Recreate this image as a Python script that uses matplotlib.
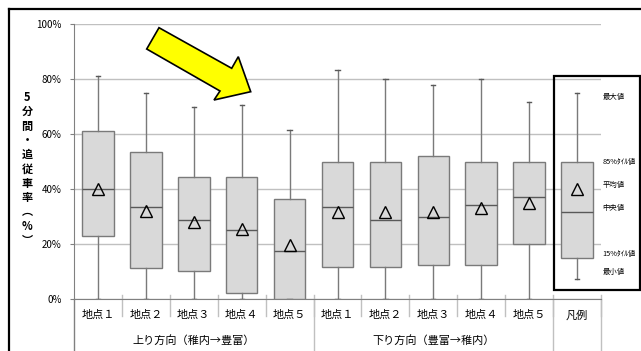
import matplotlib
matplotlib.use("Agg")
import matplotlib.pyplot as plt
from matplotlib.lines import Line2D
from matplotlib.patches import Polygon, Rectangle

plt.rcParams['font.family'] = ['Noto Sans CJK JP', 'DejaVu Sans']

# 地点ごとの統計値 (割合)
categories = ['地点１', '地点２', '地点３', '地点４', '地点５',
              '地点１', '地点２', '地点３', '地点４', '地点５', '凡例']
groups = ['上り方向（稚内→豊富）', '下り方向（豊富→稚内）', '']
group_sizes = [5, 5, 1]

whis_hi = [0.812, 0.749, 0.699, 0.704, 0.616,
           0.832, 0.799, 0.777, 0.799, 0.715, 0.749]
q85 = [0.610, 0.536, 0.442, 0.444, 0.362,
       0.499, 0.499, 0.521, 0.499, 0.499, 0.499]
median = [0.400, 0.333, 0.286, 0.250, 0.175,
          0.333, 0.286, 0.299, 0.343, 0.370, 0.318]
mean = [0.400, 0.321, 0.279, 0.253, 0.195,
        0.318, 0.315, 0.318, 0.330, 0.348, 0.400]
q15 = [0.228, 0.112, 0.101, 0.021, 0.000,
       0.115, 0.118, 0.125, 0.125, 0.200, 0.148]
whis_lo = [0.0, 0.0, 0.0, 0.0, 0.0,
           0.0, 0.0, 0.0, 0.0, 0.0, 0.072]

legend_labels = ['最大値', '85%ﾀｲﾙ値', '平均値', '中央値', '15%ﾀｲﾙ値', '最小値']
legend_label_y = [0.733, 0.499, 0.415, 0.331, 0.164, 0.099]

W, H = 641, 351
fig = plt.figure(figsize=(W / 100, H / 100), dpi=100)


def px(x, y):
    return (x / W, 1 - y / H)


ax = fig.add_axes([74 / W, (H - 299) / H, (601 - 74) / W, (299 - 24) / H])

stats = []
for i in range(len(categories)):
    stats.append(dict(med=median[i], q1=q15[i], q3=q85[i],
                      whislo=whis_lo[i], whishi=whis_hi[i], mean=mean[i]))

pos = list(range(len(categories)))
ax.bxp(stats, positions=pos, widths=0.66, capwidths=0.09,
       showmeans=True, showfliers=False, patch_artist=True,
       boxprops=dict(facecolor='#d9d9d9', edgecolor='#7a7a7a', linewidth=1),
       medianprops=dict(color='#595959', linewidth=1),
       whiskerprops=dict(color='#7a7a7a', linewidth=1),
       capprops=dict(color='#595959', linewidth=1),
       meanprops=dict(marker='^', markerfacecolor='none', markeredgecolor='black',
                      markersize=8, markeredgewidth=1),
       zorder=3)

ax.set_xlim(-0.5, len(categories) - 0.5)
ax.set_ylim(0, 1)
ax.set_yticks([0, 0.2, 0.4, 0.6, 0.8, 1.0])
ax.set_yticklabels(['0%', '20%', '40%', '60%', '80%', '100%'])
ax.yaxis.grid(True, color='#c0c0c0', linewidth=1)
ax.set_axisbelow(True)
ax.tick_params(axis='y', length=3, color='#808080', labelsize=7, pad=6)
ax.tick_params(axis='x', length=0, labelsize=8, pad=8)
ax.set_xticks(pos)
ax.set_xticklabels(categories)
for side in ['top', 'right']:
    ax.spines[side].set_visible(False)
for side in ['left', 'bottom']:
    ax.spines[side].set_color('#808080')

# 項目区切り線と2段目の見出し
xt = ax.get_xaxis_transform()
for k in range(len(categories)):
    ax.plot([k + 0.5, k + 0.5], [0.015, -0.06], transform=xt, color='#c0c0c0',
            linewidth=1, clip_on=False)
start = 0
ax.plot([-0.5, -0.5], [0, -0.19], transform=xt, color='#808080', linewidth=1, clip_on=False)
for g, n in zip(groups, group_sizes):
    end = start + n
    ax.plot([end - 0.5, end - 0.5], [0, -0.19], transform=xt, color='#c0c0c0',
            linewidth=1, clip_on=False)
    ax.text((start + end - 1) / 2, -0.15, g, transform=xt, ha='center', va='center',
            fontsize=8)
    start = end

# 凡例の説明
for lab, yv in zip(legend_labels, legend_label_y):
    ax.text(1.003, yv, lab, transform=ax.get_yaxis_transform(), ha='left', va='center',
            fontsize=5.3, clip_on=False)

# 縦書きの軸タイトル
ylabel = ['5', '分', '間', '・', '追', '従', '車', '率', '︵', '%', '︶']
fig.text(27 / W, 1 - 169 / H, '\n'.join(ylabel), ha='center', va='center',
         fontsize=8, fontweight='bold', linespacing=1.13)

# 凡例の枠
fig.add_artist(Rectangle(px(554, 289.5), (639.5 - 554) / W, (289.5 - 75.5) / H,
                         transform=fig.transFigure, fill=False, edgecolor='black',
                         linewidth=1.6))

# 矢印
arrow_pts = [(159, 27.7), (231.7, 68.3), (238.3, 56.7), (250.7, 91.7),
             (214, 100), (220, 91), (146.7, 49)]
fig.add_artist(Polygon([px(x, y) for x, y in arrow_pts], closed=True,
                       transform=fig.transFigure, facecolor='#ffff00',
                       edgecolor='black', linewidth=1.2, zorder=5))

# 外枠
fig.add_artist(Line2D([9 / W, 9 / W], [0, 1 - 9 / H], transform=fig.transFigure,
                      color='black', linewidth=1.6))
fig.add_artist(Line2D([9 / W, 1], [1 - 9 / H, 1 - 9 / H], transform=fig.transFigure,
                      color='black', linewidth=1.6))

fig.savefig('out.png', dpi=100)
